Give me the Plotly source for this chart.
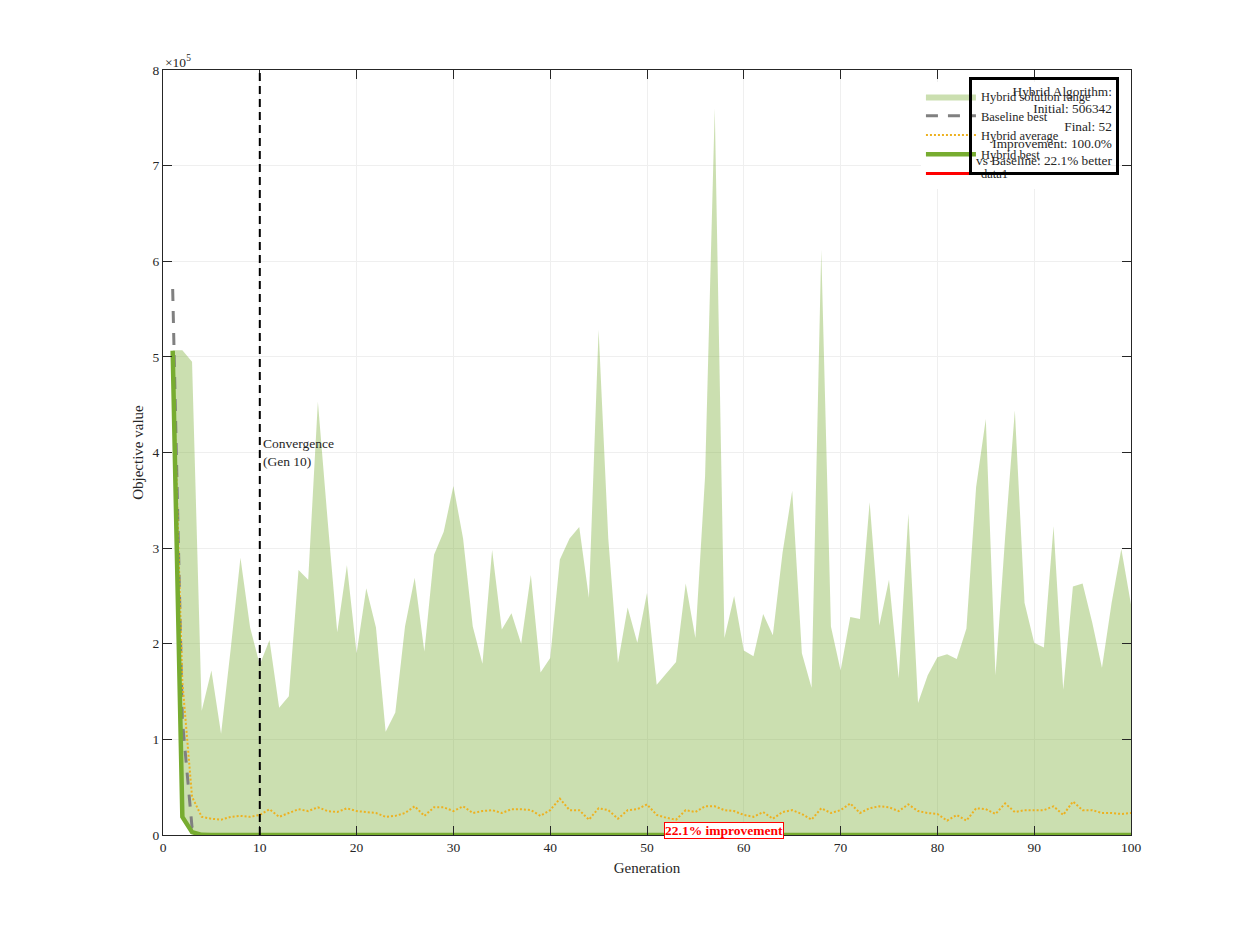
import plotly.graph_objects as go

# ---------------- data ----------------
generations = list(range(1, 101))

# upper edge of hybrid solution range (x1e5)
range_upper_e5 = [
    5.07, 5.07, 4.95, 1.30, 1.72, 1.06, 1.95, 2.90, 2.17, 1.78,
    2.04, 1.33, 1.45, 2.77, 2.67, 4.53, 3.30, 2.12, 2.82, 1.90,
    2.58, 2.17, 1.08, 1.28, 2.18, 2.69, 1.92, 2.93, 3.17, 3.65,
    3.10, 2.18, 1.79, 2.98, 2.15, 2.32, 2.00, 2.72, 1.70, 1.85,
    2.88, 3.10, 3.22, 2.48, 5.28, 3.10, 1.80, 2.38, 2.01, 2.53,
    1.57, 1.69, 1.81, 2.63, 2.06, 3.75, 7.60, 2.06, 2.50, 1.93,
    1.87, 2.31, 2.09, 2.95, 3.60, 1.90, 1.54, 6.12, 2.18, 1.72,
    2.28, 2.26, 3.48, 2.19, 2.67, 1.64, 3.36, 1.38, 1.67, 1.86,
    1.89, 1.84, 2.16, 3.64, 4.35, 1.67, 3.12, 4.44, 2.43, 2.01,
    1.96, 3.23, 1.52, 2.60, 2.63, 2.22, 1.75, 2.43, 2.99, 2.41,
]

# hybrid average (x1e5)
hybrid_avg_e5 = [
    5.06, 1.60, 0.40, 0.19, 0.17, 0.16, 0.19, 0.20, 0.19, 0.21,
    0.27, 0.19, 0.23, 0.27, 0.25, 0.29, 0.25, 0.24, 0.28, 0.25,
    0.24, 0.23, 0.19, 0.20, 0.23, 0.30, 0.20, 0.29, 0.29, 0.25,
    0.30, 0.23, 0.25, 0.26, 0.23, 0.27, 0.27, 0.26, 0.20, 0.26,
    0.38, 0.26, 0.26, 0.16, 0.28, 0.26, 0.17, 0.26, 0.27, 0.32,
    0.21, 0.18, 0.16, 0.26, 0.24, 0.30, 0.30, 0.26, 0.25, 0.21,
    0.19, 0.24, 0.17, 0.24, 0.26, 0.22, 0.16, 0.28, 0.23, 0.26,
    0.33, 0.23, 0.28, 0.30, 0.29, 0.25, 0.32, 0.25, 0.23, 0.22,
    0.15, 0.21, 0.15, 0.28, 0.27, 0.22, 0.33, 0.24, 0.26, 0.26,
    0.26, 0.30, 0.21, 0.35, 0.26, 0.26, 0.23, 0.23, 0.22, 0.23,
]

# hybrid best (raw values)
hybrid_best = [506342, 19000, 3000, 150] + [52] * 96

# baseline best (raw values)
baseline_best = [571000, 120000, 8000, 67] + [67] * 96

# red "data1" series (final hybrid vs baseline)
data1_x = [100, 100]
data1_y = [52, 67]

convergence_gen = 10
improvement_gen = 58

y_tick_vals_e5 = [0, 1, 2, 3, 4, 5, 6, 7, 8]
y_tick_text = ["0", "1", "2", "3", "4", "5", "6", "7", "8"]
x_tick_vals = [0, 10, 20, 30, 40, 50, 60, 70, 80, 90, 100]
x_tick_text = ["0", "10", "20", "30", "40", "50", "60", "70", "80", "90", "100"]

info_lines = [
    "Hybrid Algorithm:",
    "Initial: 506342",
    "Final: 52",
    "Improvement: 100.0%",
    "vs Baseline: 22.1% better",
]

# ---------------- figure ----------------
SCALE = 1e5
FONT = "Liberation Serif, Times New Roman, serif"
TXT = "#262626"

range_upper = [v * SCALE for v in range_upper_e5]
hybrid_avg = [v * SCALE for v in hybrid_avg_e5]

fig = go.Figure()

# lower edge of range (hybrid best), invisible
fig.add_trace(go.Scatter(
    x=generations, y=hybrid_best, mode="lines",
    line=dict(width=0, color="rgba(0,0,0,0)"),
    showlegend=False, hoverinfo="skip"))

fig.add_trace(go.Scatter(
    x=generations, y=range_upper, mode="lines", fill="tonexty",
    fillcolor="rgba(119,172,48,0.38)",
    line=dict(width=0, color="rgba(119,172,48,0)"),
    name="Hybrid solution range"))

fig.add_trace(go.Scatter(
    x=generations, y=baseline_best, mode="lines",
    line=dict(color="#808080", width=3, dash="12px,10px"),
    name="Baseline best"))

fig.add_trace(go.Scatter(
    x=generations, y=hybrid_avg, mode="lines",
    line=dict(color="#EDB120", width=2, dash="2px,2px"),
    name="Hybrid average"))

fig.add_trace(go.Scatter(
    x=generations, y=hybrid_best, mode="lines",
    line=dict(color="#77AC30", width=4.5),
    name="Hybrid best"))

fig.add_trace(go.Scatter(
    x=data1_x, y=data1_y, mode="lines",
    line=dict(color="#FF0000", width=3),
    name="data1"))

# convergence line
fig.add_shape(type="line", xref="x", yref="paper",
              x0=convergence_gen, x1=convergence_gen, y0=0, y1=1,
              line=dict(color="black", width=2, dash="8px,5px"), layer="above")

axis_common = dict(
    showline=True, linecolor=TXT, linewidth=1, mirror="ticks",
    ticks="inside", ticklen=9, tickcolor=TXT, tickwidth=1,
    showgrid=True, gridcolor="#efefef", gridwidth=1, zeroline=False,
    layer="above traces",
    tickfont=dict(family=FONT, size=13.5, color=TXT),
)

fig.update_layout(
    width=1250, height=938,
    margin=dict(l=163, r=119, t=70, b=103),
    paper_bgcolor="white", plot_bgcolor="white",
    font=dict(family=FONT, size=13, color=TXT),
    xaxis=dict(range=[0, 100], tickvals=x_tick_vals, ticktext=x_tick_text,
               title=dict(text="Generation", font=dict(family=FONT, size=15, color=TXT), standoff=8),
               **axis_common),
    yaxis=dict(range=[0, 8 * SCALE], tickvals=[v * SCALE for v in y_tick_vals_e5], ticktext=y_tick_text,
               title=dict(text="Objective value", font=dict(family=FONT, size=15, color=TXT), standoff=5),
               **axis_common),
    legend=dict(x=0.783, y=0.9845, xanchor="left", yanchor="top",
                bgcolor="white", borderwidth=0, itemwidth=50,
                traceorder="normal",
                font=dict(family=FONT, size=12.5, color=TXT),
                tracegroupgap=0),
    showlegend=True,
)

fig.add_annotation(
    x=convergence_gen, y=4.0 * SCALE, xref="x", yref="y",
    text="Convergence<br>(Gen 10)", showarrow=False,
    xanchor="left", yanchor="middle", align="left", xshift=1,
    font=dict(family=FONT, size=13.5, color=TXT))

fig.add_annotation(
    x=improvement_gen, y=hybrid_best[-1], xref="x", yref="y",
    text="<b>22.1% improvement</b>", showarrow=False,
    xanchor="center", yanchor="middle", yshift=4,
    bgcolor="white", bordercolor="#FF0000", borderwidth=1, borderpad=0,
    font=dict(family=FONT, size=13.5, color="#FF0000"))

fig.add_annotation(
    x=0.9876, y=0.9908, xref="paper", yref="paper",
    text="<br>".join(info_lines), showarrow=False,
    xanchor="right", yanchor="top", align="right",
    bgcolor="rgba(0,0,0,0)", bordercolor="black", borderwidth=3, borderpad=4,
    font=dict(family=FONT, size=13.3, color=TXT))

fig.add_annotation(
    x=0, y=1, xref="paper", yref="paper",
    text="×10<sup>5</sup>", showarrow=False,
    xanchor="left", yanchor="bottom", yshift=-2,
    font=dict(family=FONT, size=13.5, color=TXT))

fig.write_html("out.html")
